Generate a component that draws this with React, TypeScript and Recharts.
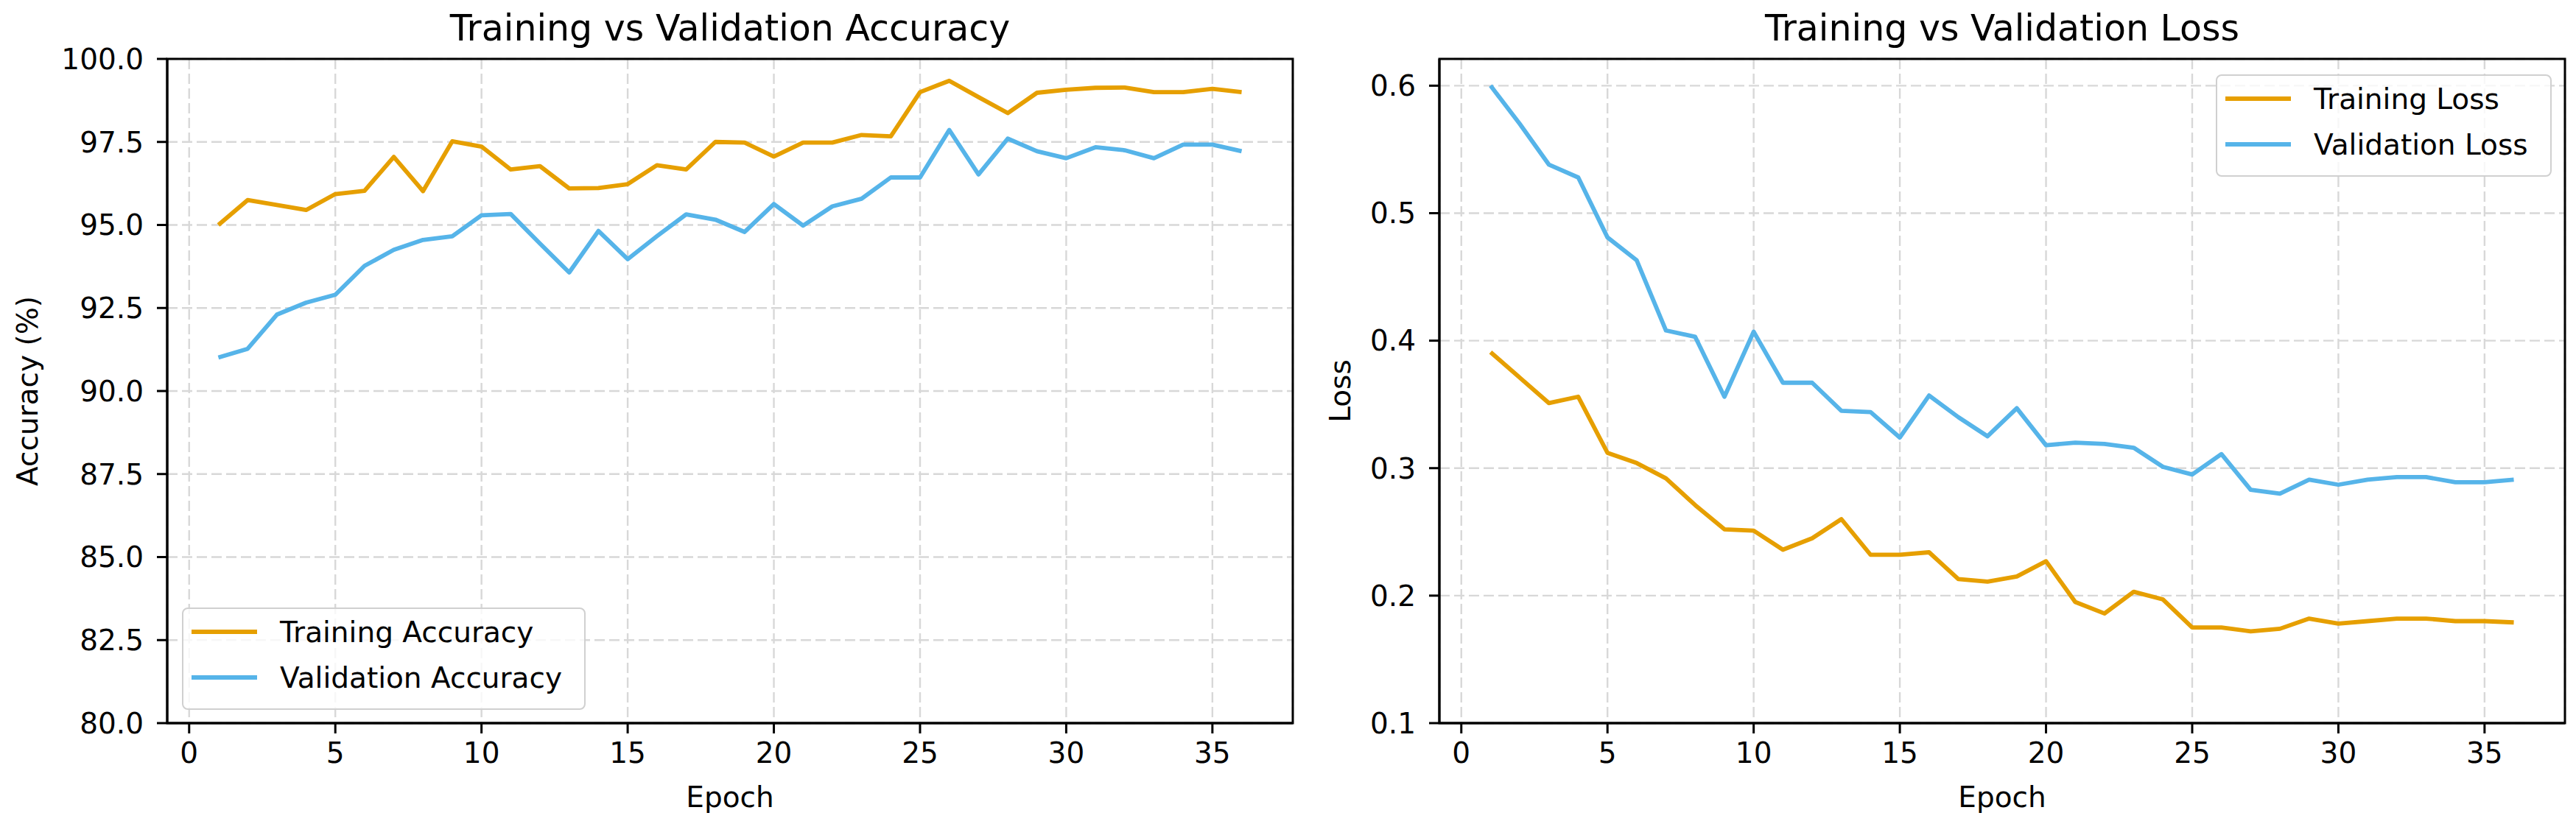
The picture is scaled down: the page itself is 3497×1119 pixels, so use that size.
import React from 'react';
import {
  LineChart,
  Line,
  XAxis,
  YAxis,
  CartesianGrid,
  Legend,
  ReferenceArea,
} from 'recharts';

// epochs and values
const epochs = [
  1, 2, 3, 4, 5, 6, 7, 8, 9, 10, 11, 12, 13, 14, 15, 16, 17, 18,
  19, 20, 21, 22, 23, 24, 25, 26, 27, 28, 29, 30, 31, 32, 33, 34, 35, 36,
];

const trainAcc = [
  95.0, 95.75, 95.6, 95.45, 95.93, 96.03, 97.05, 96.02, 97.52, 97.36, 96.67, 96.77,
  96.1, 96.11, 96.23, 96.8, 96.67, 97.5, 97.48, 97.06, 97.48, 97.48, 97.71, 97.67,
  99.0, 99.34, 98.85, 98.37, 98.98, 99.07, 99.13, 99.14, 99.0, 99.0, 99.1, 99.0,
];

const valAcc = [
  91.01, 91.27, 92.3, 92.66, 92.9, 93.77, 94.25, 94.55, 94.66, 95.29, 95.33, 94.44,
  93.57, 94.82, 93.97, 94.66, 95.32, 95.16, 94.79, 95.63, 94.98, 95.56, 95.79, 96.43,
  96.43, 97.86, 96.52, 97.6, 97.22, 97.01, 97.34, 97.25, 97.01, 97.42, 97.42, 97.22,
];

const trainLoss = [
  0.391, 0.371, 0.351, 0.356, 0.312, 0.304, 0.292, 0.271, 0.252, 0.251, 0.236, 0.245,
  0.26, 0.232, 0.232, 0.234, 0.213, 0.211, 0.215, 0.227, 0.195, 0.186, 0.203, 0.197,
  0.175, 0.175, 0.172, 0.174, 0.182, 0.178, 0.18, 0.182, 0.182, 0.18, 0.18, 0.179,
];

const valLoss = [
  0.6, 0.57, 0.538, 0.528, 0.481, 0.463, 0.408, 0.403, 0.356, 0.407, 0.367, 0.367,
  0.345, 0.344, 0.324, 0.357, 0.34, 0.325, 0.347, 0.318, 0.32, 0.319, 0.316, 0.301,
  0.295, 0.311, 0.283, 0.28, 0.291, 0.287, 0.291, 0.293, 0.293, 0.289, 0.289, 0.291,
];

const xTicks = [0, 5, 10, 15, 20, 25, 30, 35];
const accTicks = [80, 82.5, 85, 87.5, 90, 92.5, 95, 97.5, 100];
const lossTicks = [0.1, 0.2, 0.3, 0.4, 0.5, 0.6];

const ORANGE = '#E69F00';
const BLUE = '#56B4E9';
const FONT = '"DejaVu Sans", Verdana, sans-serif';

const accData = epochs.map((epoch, i) => ({ epoch, train: trainAcc[i], val: valAcc[i] }));
const lossData = epochs.map((epoch, i) => ({ epoch, train: trainLoss[i], val: valLoss[i] }));

const X_DOMAIN: [number, number] = [-0.75, 37.75];
const ACC_DOMAIN: [number, number] = [80, 100];
const LOSS_DOMAIN: [number, number] = [0.1, 0.621];

const tickStyle = { fill: '#000', fontSize: 39, fontFamily: FONT };

const renderLegend = (props: any) => {
  const { payload } = props;
  return (
    <div
      style={{
        background: 'rgba(255,255,255,0.8)',
        border: '2px solid #d0d0d0',
        borderRadius: 8,
        paddingBottom: 11,
        paddingRight: 30,
        fontFamily: FONT,
      }}
    >
      {(payload || []).map((entry: any) => (
        <div key={entry.value} style={{ display: 'flex', alignItems: 'center', height: 62 }}>
          <span
            style={{
              display: 'inline-block',
              width: 89,
              height: 6,
              marginLeft: 11,
              background: entry.color,
            }}
          />
          <span style={{ marginLeft: 31, fontSize: 39, color: '#000', whiteSpace: 'nowrap' }}>
            {entry.value}
          </span>
        </div>
      ))}
    </div>
  );
};

interface PanelProps {
  data: Array<{ epoch: number; train: number; val: number }>;
  width: number;
  yAxisWidth: number;
  marginRight: number;
  yDomain: [number, number];
  yTicks: number[];
  trainName: string;
  valName: string;
  legendPos: { left: number; top: number };
}

const Panel: React.FC<PanelProps> = ({
  data, width, yAxisWidth, marginRight, yDomain, yTicks, trainName, valName, legendPos,
}) => (
  <LineChart
    width={width}
    height={1119}
    data={data}
    margin={{ top: 80, right: marginRight, bottom: 0, left: 0 }}
  >
    <CartesianGrid stroke="#d8d8d8" strokeWidth={2.4} strokeDasharray="14 6" />
    <XAxis
      dataKey="epoch"
      type="number"
      domain={X_DOMAIN}
      allowDataOverflow
      ticks={xTicks}
      height={137}
      tick={tickStyle}
      tickSize={14}
      tickMargin={12}
      tickLine={{ stroke: '#000', strokeWidth: 3 }}
      axisLine={{ stroke: '#000', strokeWidth: 3 }}
    />
    <YAxis
      type="number"
      domain={yDomain}
      allowDataOverflow
      ticks={yTicks}
      width={yAxisWidth}
      tick={tickStyle}
      tickSize={14}
      tickMargin={18}
      tickFormatter={(v: number) => v.toFixed(1)}
      tickLine={{ stroke: '#000', strokeWidth: 3 }}
      axisLine={{ stroke: '#000', strokeWidth: 3 }}
    />
    <ReferenceArea
      x1={X_DOMAIN[0]}
      x2={X_DOMAIN[1]}
      y1={yDomain[0]}
      y2={yDomain[1]}
      fill="none"
      fillOpacity={0}
      stroke="#000"
      strokeWidth={3}
    />
    <Legend
      layout="horizontal"
      verticalAlign="middle"
      content={renderLegend}
      wrapperStyle={{ left: legendPos.left, top: legendPos.top, width: 'auto', bottom: 'auto' }}
    />
    <Line
      type="linear"
      dataKey="train"
      name={trainName}
      stroke={ORANGE}
      strokeWidth={5.8}
      strokeLinejoin="round"
      dot={false}
      isAnimationActive={false}
    />
    <Line
      type="linear"
      dataKey="val"
      name={valName}
      stroke={BLUE}
      strokeWidth={5.8}
      strokeLinejoin="round"
      dot={false}
      isAnimationActive={false}
    />
  </LineChart>
);

const App: React.FC = () => (
  <div
    style={{
      position: 'absolute',
      left: 0,
      top: 0,
      width: 3497,
      height: 1119,
      background: '#fff',
      fontFamily: FONT,
      overflow: 'hidden',
    }}
  >
    <div style={{ position: 'absolute', left: 0, top: 0 }}>
      <Panel
        data={accData}
        width={1800}
        yAxisWidth={227}
        marginRight={45}
        yDomain={ACC_DOMAIN}
        yTicks={accTicks}
        trainName="Training Accuracy"
        valName="Validation Accuracy"
        legendPos={{ left: 247, top: 825 }}
      />
    </div>
    <div style={{ position: 'absolute', left: 1800, top: 0 }}>
      <Panel
        data={lossData}
        width={1697}
        yAxisWidth={154}
        marginRight={15}
        yDomain={LOSS_DOMAIN}
        yTicks={lossTicks}
        trainName="Training Loss"
        valName="Validation Loss"
        legendPos={{ left: 1208, top: 101 }}
      />
    </div>
    {/* titles and axis labels */}
    <svg
      width={3497}
      height={1119}
      style={{ position: 'absolute', left: 0, top: 0, pointerEvents: 'none' }}
      fontFamily={FONT}
    >
      <text x={991} y={55} fontSize={49} textAnchor="middle" fill="#000">
        Training vs Validation Accuracy
      </text>
      <text x={2718} y={55} fontSize={49} textAnchor="middle" fill="#000">
        Training vs Validation Loss
      </text>
      <text x={991} y={1096} fontSize={39} textAnchor="middle" fill="#000">Epoch</text>
      <text x={2718} y={1096} fontSize={39} textAnchor="middle" fill="#000">Epoch</text>
      <text x={51} y={531} fontSize={39} textAnchor="middle" fill="#000" transform="rotate(-90 51 531)">
        Accuracy (%)
      </text>
      <text x={1833} y={531} fontSize={39} textAnchor="middle" fill="#000" transform="rotate(-90 1833 531)">
        Loss
      </text>
    </svg>
  </div>
);

export default App;
